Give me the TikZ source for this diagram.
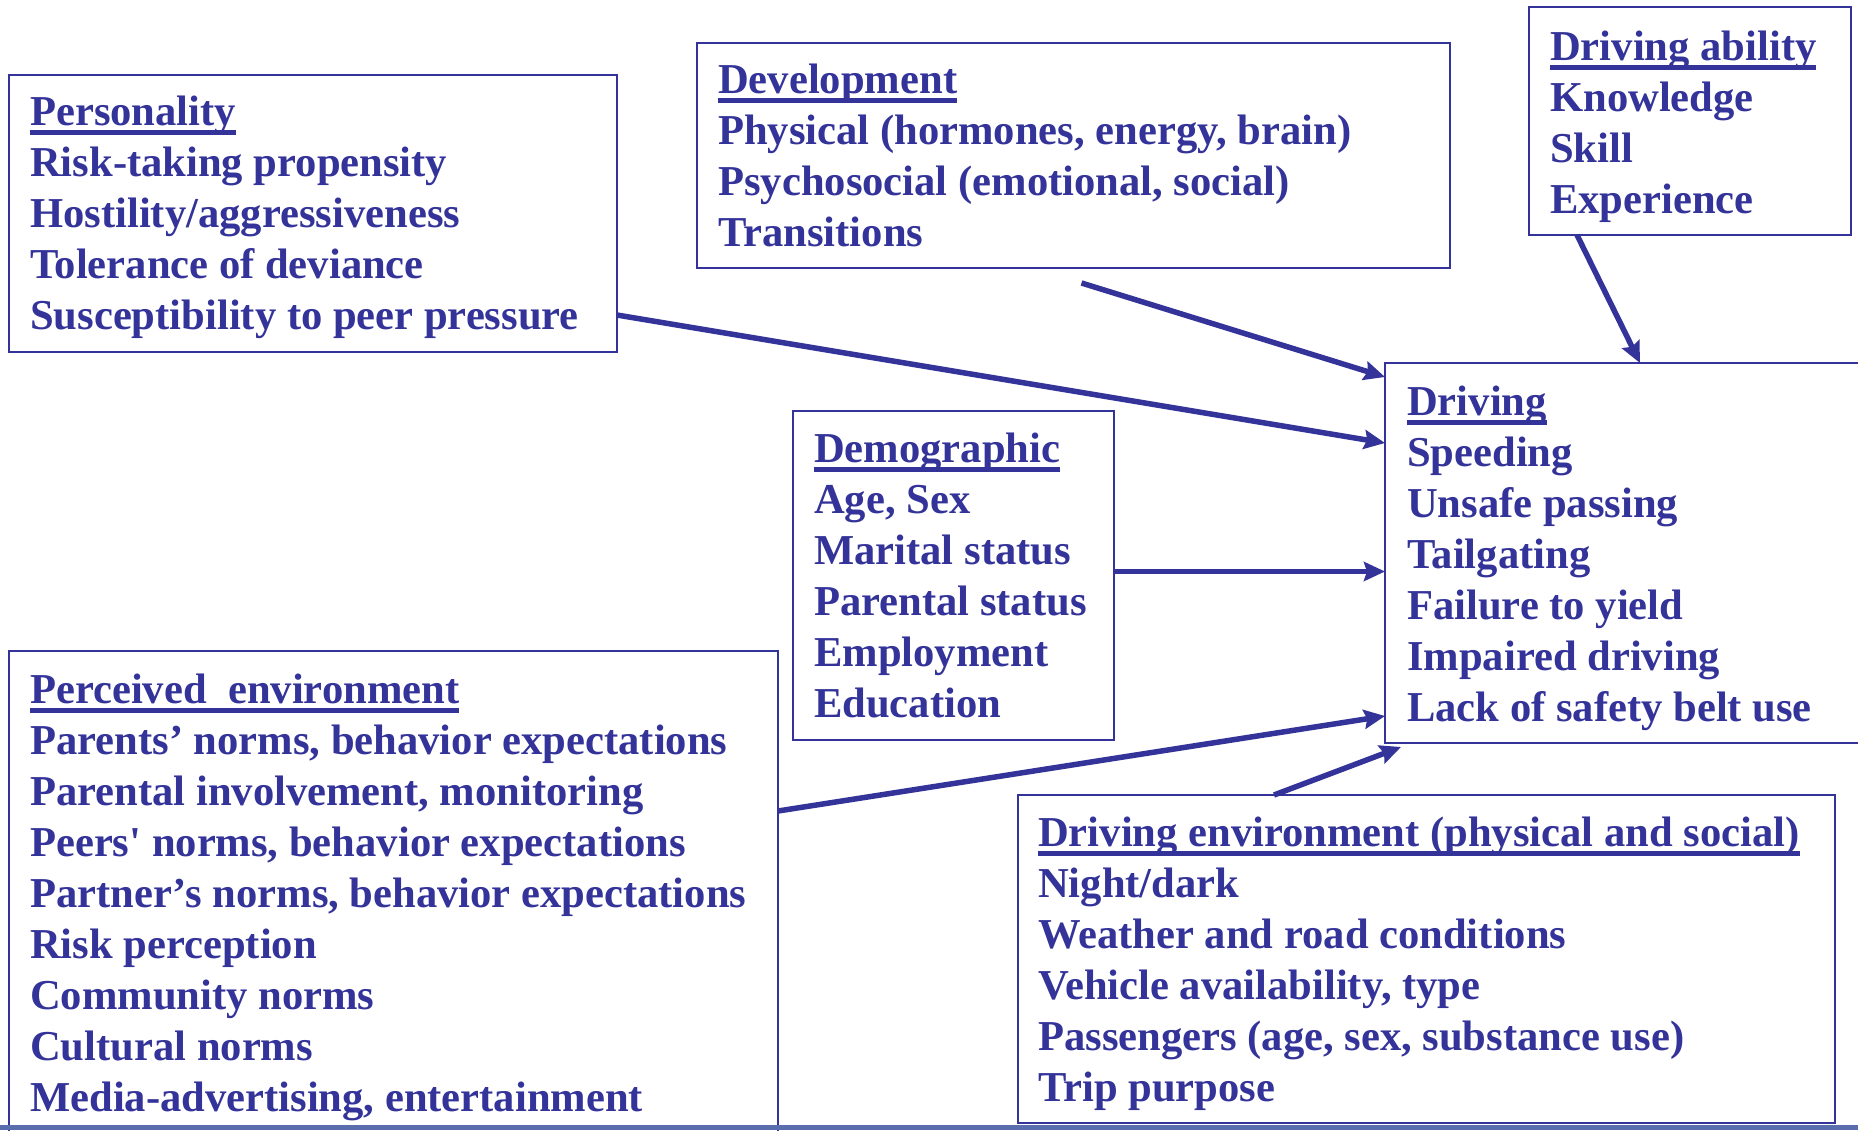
\documentclass[tikz,border=0pt]{standalone}
\usepackage{fontspec}
\setmainfont{Liberation Serif}[Ligatures=TeXOff]
\usetikzlibrary{arrows.meta,calc}
\definecolor{ink}{HTML}{333399}
\definecolor{stripc}{HTML}{5A6EAE}
\newcommand\hdr[1]{\setbox0\hbox{#1}\rlap{\rule[-9.5pt]{\wd0}{4.2pt}}\box0}
\newcommand\lines[1]{\begin{tabular}[t]{@{}l@{}}#1\end{tabular}}
\tikzset{
  box/.style={draw=ink, line width=2.6pt, inner sep=0pt, outer sep=0pt, anchor=north west},
  txt/.style={text=ink, font=\fontsize{42.6}{51}\selectfont\bfseries, inner sep=0pt, anchor=base west},
  arr/.style={draw=ink, line width=5.5pt, -{Stealth[length=21pt,width=19pt,inset=3pt]}}
}
\begin{document}
\begin{tikzpicture}[x=1pt,y=-1pt]
\clip (0,0) rectangle (1858,1130);
\fill[white] (0,0) rectangle (1858,1130);
% boxes
\node[box, minimum width=608pt, minimum height=277pt] (pers) at (9,75) {};
\node[box, minimum width=753pt, minimum height=225pt] (dev) at (697,43) {};
\node[box, minimum width=322pt, minimum height=228pt] (abil) at (1529,7) {};
\node[box, minimum width=520pt, minimum height=380pt] (drv) at (1385,363) {};
\node[box, minimum width=321pt, minimum height=329pt] (demo) at (793,411) {};
\node[box, minimum width=769pt, minimum height=500pt] (perc) at (9,651) {};
\node[box, minimum width=817pt, minimum height=328pt] (env) at (1018,795) {};
% texts
\node[txt] (perst) at ($(pers.north west)+(21,50)$) {\lines{\hdr{Personality}\\Risk-taking propensity\\Hostility/aggressiveness\\Tolerance of deviance\\Susceptibility to peer pressure}};
\node[txt] (devt) at ($(dev.north west)+(21,50)$) {\lines{\hdr{Development}\\Physical (hormones, energy, brain)\\Psychosocial (emotional, social)\\Transitions}};
\node[txt] (abilt) at ($(abil.north west)+(21,53)$) {\lines{\hdr{Driving ability}\\Knowledge\\Skill\\Experience}};
\node[txt] (drvt) at ($(drv.north west)+(22,52)$) {\lines{\hdr{Driving}\\Speeding\\Unsafe passing\\Tailgating\\Failure to yield\\Impaired driving\\Lack of safety belt use}};
\node[txt] (demot) at ($(demo.north west)+(21,51)$) {\lines{\hdr{Demographic}\\Age, Sex\\Marital status\\Parental status\\Employment\\Education}};
\node[txt] (perct) at ($(perc.north west)+(21,52)$) {\lines{\hdr{Perceived~~environment}\\Parents’ norms, behavior expectations\\Parental involvement, monitoring\\Peers' norms, behavior expectations\\Partner’s norms, behavior expectations\\Risk perception\\Community norms\\Cultural norms\\Media-advertising, entertainment}};
\node[txt] (envt) at ($(env.north west)+(20,51)$) {\lines{\hdr{Driving environment (physical and social)}\\Night/dark\\Weather and road conditions\\Vehicle availability, type\\Passengers (age, sex, substance use)\\Trip purpose}};
% arrows
\draw[arr] ($(pers.south east)+(0,-37)$) -- ($(drv.north west)+(0,80)$);
\coordinate (devtail) at ($(dev.south)+(8,15)$);
\draw[arr] (devtail) -- ($(drv.north west)+(0,14)$);
\draw[arr] ($(abil.south west)+(48,0)$) -- ($(drv.north west)+(255,0)$);
\coordinate (demoout) at ($(demo.east)+(0,-4)$);
\draw[arr] (demoout) -- (demoout -| drv.west);
\draw[arr] ($(perc.north east)+(0,160)$) -- ($(drv.south west)+(0,-27)$);
\draw[arr] ($(env.north west)+(256,0)$) -- ($(drv.south west)+(16,4)$);
% bottom strip
\fill[stripc] (0,1125) rectangle (1858,1130);
\end{tikzpicture}
\end{document}
